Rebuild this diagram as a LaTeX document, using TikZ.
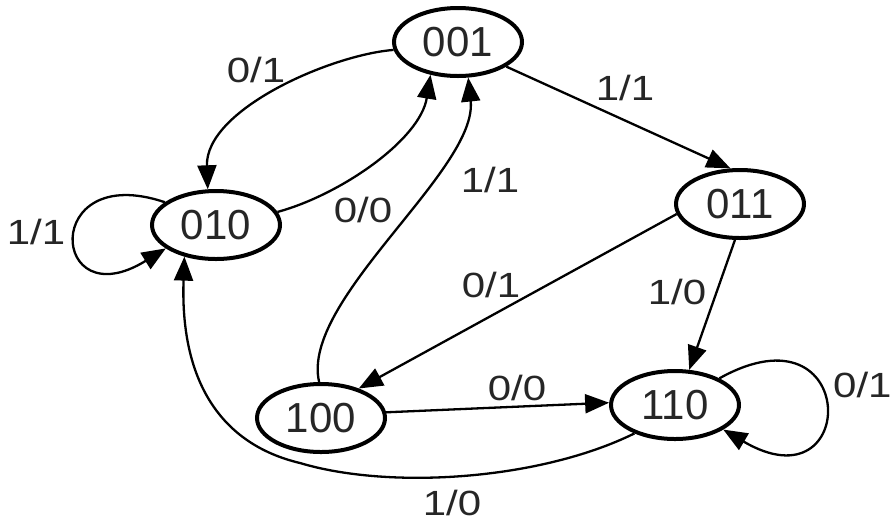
\documentclass[tikz,border=0pt]{standalone}
\usepackage{fontspec}
\setmainfont{Liberation Sans}
\newfontfamily\lblfont{Liberation Sans}[FakeStretch=1.2]
\usetikzlibrary{arrows.meta,shapes.geometric}
\tikzset{
  st/.style={ellipse, draw, line width=4pt, minimum width=128pt, minimum height=68pt,
    inner sep=0pt, text=black!85, font=\fontsize{42}{42}\selectfont},
  arr/.style={line width=2.3pt, -{Triangle[length=24pt,width=19pt]}},
  lbl/.style={inner sep=0pt, text=black!85, font=\lblfont\fontsize{35}{35}\selectfont}
}
\begin{document}
\begin{tikzpicture}[x=1pt,y=-1pt]
\useasboundingbox[fill=white] (0,0) rectangle (893,523);
% states
\node[st] (A) at (458,42) {001};
\node[st] (B) at (216,225) {010};
\node[st] (C) at (740,204) {011};
\node[st] (D) at (321,418) {100};
\node[st] (E) at (675,405) {110};
\coordinate (j) at (300,463);
% transitions
\draw[arr] (A.187) .. controls (330,55) and (205,110) .. (B.103);
\draw[arr] (B.12) .. controls (340,195) and (420,140) .. (A.230);
\draw[arr] (D.93) .. controls (300,300) and (478,170) .. (A.286);
\draw[arr] (A.-27) -- (C.105);
\draw[arr] (C.189) -- (D.38);
\draw[arr] (C.262) -- (E.68);
\draw[arr] (D.5) -- (E.178);
\draw[arr] (E.31) .. controls (860,300) and (860,510) .. (E.-27);
\draw[arr] (E.215) .. controls (540,480) and (390,490) .. (j) .. controls (220,444) and (180,380) .. (B.225);
\draw[arr] (B.156) .. controls (40,160) and (50,320) .. (B.205);
% labels
\node[lbl] (l1) at (256,70) {0/1};
\node[lbl] (l2) at (363,210) {0/0};
\node[lbl] (l3) at (490,180) {1/1};
\node[lbl] (l4) at (625,88) {1/1};
\node[lbl] (l5) at (491,285) {0/1};
\node[lbl] (l6) at (677,292) {1/0};
\node[lbl] (l7) at (517,388) {0/0};
\node[lbl, anchor=west] (l8) at (833,385) {0/1};
\node[lbl] (l9) at (452,503) {1/0};
\node[lbl] (l10) at (36,232) {1/1};
\end{tikzpicture}
\end{document}
